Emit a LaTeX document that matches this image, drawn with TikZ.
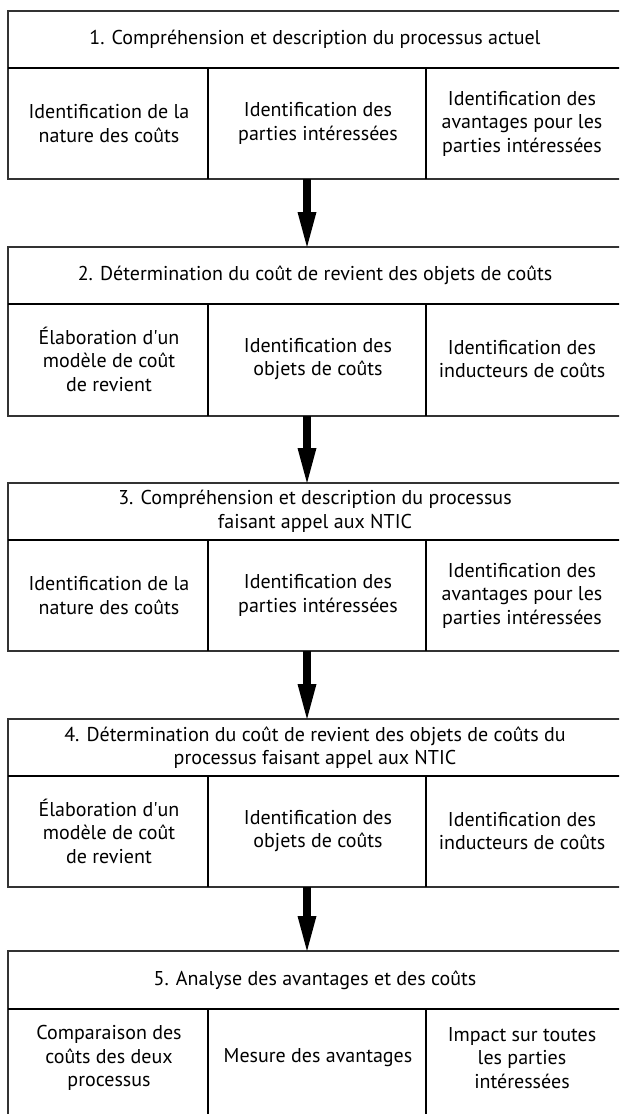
\documentclass[tikz,border=0pt]{standalone}
\usepackage{fontspec}
\setmainfont{PT Sans}
\usetikzlibrary{arrows.meta}
\begin{document}
\begin{tikzpicture}[x=1pt,y=-1pt,
  frame/.style={draw=black!80, line width=1.6pt, anchor=north west,
    minimum width=616pt, inner sep=0pt, outer sep=0pt},
  headline/.style={draw=black, line width=2.2pt},
  divider/.style={draw=black, line width=1.1pt},
  txt/.style={align=center, font=\fontsize{20}{23.5}\selectfont, inner sep=0pt},
  flow/.style={line width=8pt,
    -{Triangle[width=19pt,length=35pt,line width=0pt]}}
]
\useasboundingbox (0,0) rectangle (619,1114);
\clip (0,0) rectangle (619,1114);
\fill[white] (0,0) rectangle (619,1114);

% vertical axis of the arrows
\coordinate (ax) at (307,0);

% ---- block frames ----
\node[frame, minimum height=168pt] (b1) at (8,11) {};
\node[frame, minimum height=169pt] (b2) at (8,247) {};
\node[frame, minimum height=168pt] (b3) at (8,483) {};
\node[frame, minimum height=168pt] (b4) at (8,719) {};
\node[frame, minimum height=170pt] (b5) at (8,951) {};

% ---- header separators and column dividers ----
\foreach \h/\b in {68/179, 304/416, 540/651, 776/887, 1009/1130}{
  \draw[headline] (8,\h) -- (624,\h);
  \draw[divider] (208,\h) -- (208,\b);
  \draw[divider] (426,\h) -- (426,\b);
}

% ---- block 1 ----
\node[txt] (h1) at (315,39.5) {1. Compréhension et description du processus actuel};
\node[txt] (c11) at (109,123.5) {Identification de la\\nature des coûts};
\node[txt] (c12) at (318,123.5) {Identification des\\parties intéressées};
\node[txt] (c13) at (522,123.5) {Identification des\\avantages pour les\\parties intéressées};

% ---- block 2 ----
\node[txt] (h2) at (315,275.5) {2. Détermination du coût de revient des objets de coûts};
\node[txt] (c21) at (109,359) {Élaboration d\textquotesingle un\\modèle de coût\\de revient};
\node[txt] (c22) at (318,359) {Identification des\\objets de coûts};
\node[txt] (c23) at (522,359) {Identification des\\inducteurs de coûts};

% ---- block 3 ----
\node[txt] (h3) at (315,511.5) {3. Compréhension et description du processus\\faisant appel aux NTIC};
\node[txt] (c31) at (109,595.5) {Identification de la\\nature des coûts};
\node[txt] (c32) at (318,595.5) {Identification des\\parties intéressées};
\node[txt] (c33) at (522,595.5) {Identification des\\avantages pour les\\parties intéressées};

% ---- block 4 ----
\node[txt] (h4) at (315,747.5) {4. Détermination du coût de revient des objets de coûts du\\processus faisant appel aux NTIC};
\node[txt] (c41) at (109,831) {Élaboration d\textquotesingle un\\modèle de coût\\de revient};
\node[txt] (c42) at (318,831) {Identification des\\objets de coûts};
\node[txt] (c43) at (522,831) {Identification des\\inducteurs de coûts};

% ---- block 5 ----
\node[txt] (h5) at (315,980) {5. Analyse des avantages et des coûts};
\node[txt] (c51) at (109,1058) {Comparaison des\\coûts des deux\\processus};
\node[txt] (c52) at (318,1058) {Mesure des avantages};
\node[txt] (c53) at (522,1058) {Impact sur toutes\\les parties\\intéressées};

% ---- arrows between blocks ----
\draw[flow] (b1.south -| ax) -- (b2.north -| ax);
\draw[flow] (b2.south -| ax) -- (b3.north -| ax);
\draw[flow] (b3.south -| ax) -- (b4.north -| ax);
\draw[flow] (b4.south -| ax) -- (b5.north -| ax);
\end{tikzpicture}
\end{document}
